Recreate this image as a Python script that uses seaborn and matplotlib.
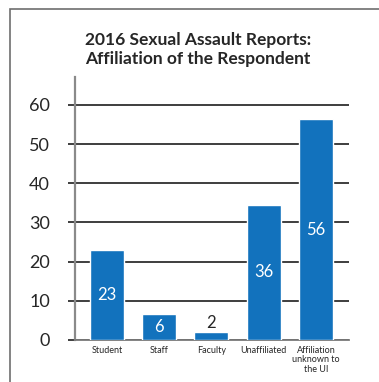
import numpy as np
import pandas as pd
import matplotlib.pyplot as plt
import seaborn as sns
from matplotlib.patches import Rectangle

#------------ data -----------
categories = ["Student", "Staff", "Faculty", "Unaffiliated", "Affiliation\nunknown to\nthe UI"]
bar_heights = [23, 6.6, 2, 34.5, 56.3]
bar_labels = ["23", "6", "2", "36", "56"]
y_ticks = [0, 10, 20, 30, 40, 50, 60]

df = pd.DataFrame({"category": categories, "value": bar_heights})

#------------ style -----------
sns.set_style("white")
plt.rcParams["font.family"] = ["Lato", "DejaVu Sans"]

blue = "#1272bd"
dark = "#1e1e1e"

fig = plt.figure(figsize=(3.79, 3.82), dpi=100)
ax = fig.add_axes([75 / 379, 42 / 382, 274 / 379, 263 / 382])

sns.barplot(data=df, x="category", y="value", color=blue, width=0.65,
            saturation=1, ax=ax, zorder=3)

ax.set_xlim(-0.61, 4.63)
ax.set_ylim(0, 67.1)
ax.set_yticks(y_ticks)
ax.set_xlabel("")
ax.set_ylabel("")

#----------- grid / spines -----------
ax.yaxis.grid(True, color=dark, linewidth=1.2, zorder=0)
ax.set_axisbelow(True)
for s in ["top", "right"]:
    ax.spines[s].set_visible(False)
ax.spines["left"].set_color("#8a8a8a")
ax.spines["left"].set_linewidth(1.6)
ax.spines["bottom"].set_color("#7a7a7a")
ax.spines["bottom"].set_linewidth(1.3)

ax.tick_params(axis="y", length=5, width=1.2, color=dark, pad=13,
               labelsize=13, labelcolor="#262626", left=True)
ax.tick_params(axis="x", length=0, pad=4, labelsize=6.5, labelcolor="#262626")
for lbl in ax.get_xticklabels():
    lbl.set_linespacing(1.1)

#----------- bar labels -----------
for i, (h, t) in enumerate(zip(bar_heights, bar_labels)):
    if h < 4:
        ax.text(i, h + 0.4, t, ha="center", va="bottom", fontsize=12, color="#262626")
    else:
        ax.text(i, h / 2, t, ha="center", va="center", fontsize=12, color="white")

#----------- title -----------
fig.text(198 / 379, 1 - 49.5 / 382,
         "2016 Sexual Assault Reports:\nAffiliation of the Respondent",
         ha="center", va="center", fontsize=12.5, fontweight="bold",
         color="#262626", linespacing=1.2)

#----------- frame -----------
fig.patches.append(Rectangle((10 / 379, -0.1), 1.2, 1 - 9 / 382 + 0.1,
                             transform=fig.transFigure, fill=False,
                             edgecolor="#6e6e6e", linewidth=1.2))

fig.savefig("out.png", dpi=100)
